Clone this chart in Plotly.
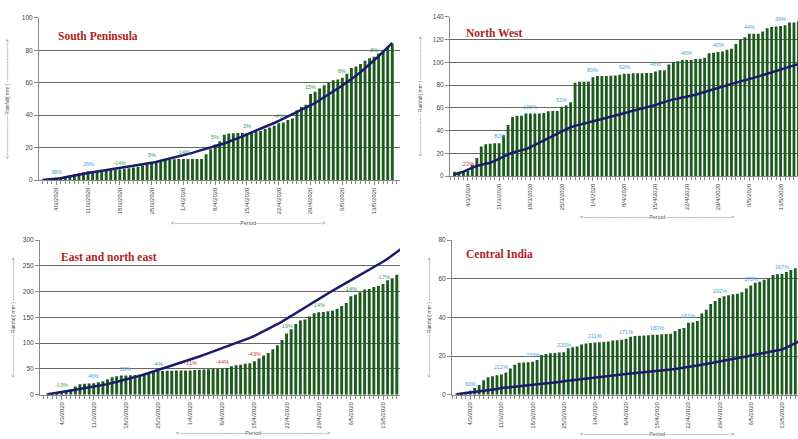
import pandas as pd
import plotly.graph_objects as go

# ---------------- data ----------------
dates = pd.date_range("2020-03-01", "2020-05-17", freq="D")
tick_labels = ["4/3/2020", "11/3/2020", "18/3/2020", "25/3/2020", "1/4/2020", "8/4/2020",
               "15/4/2020", "22/4/2020", "29/4/2020", "6/5/2020", "13/5/2020"]
tick_dates = list(dates[3::7])

sp_actual = [0.2, 0.4, 0.6, 1.0, 1.6, 2.3, 3.0, 3.6, 4.2, 4.8,
             5.5, 5.6, 5.7, 5.8, 6.0, 6.2, 6.4, 6.5, 7.0, 7.4,
             7.8, 8.3, 9.0, 9.8, 11.0, 11.5, 12.0, 12.4, 12.7, 12.9,
             13.0, 13.0, 13.0, 13.0, 13.1, 13.1, 16.0, 19.0, 22.0, 24.0,
             28.0, 28.8, 28.9, 29.0, 29.0, 29.0, 29.5, 30.0, 30.3, 31.5,
             32.5, 33.5, 35.0, 35.5, 37.0, 38.0, 43.0, 45.0, 46.5, 53.0,
             54.5, 56.5, 58.5, 60.0, 61.5, 62.0, 63.0, 65.5, 69.0, 70.0,
             71.5, 73.5, 75.0, 76.0, 78.0, 80.0, 82.0, 84.0]
sp_normal = [0.1, 0.3, 0.5, 0.7, 1.2, 1.8, 2.4, 3.0, 3.5, 4.0,
             4.4, 4.9, 5.3, 5.7, 6.2, 6.7, 7.1, 7.6, 8.0, 8.4,
             8.8, 9.3, 9.8, 10.2, 10.5, 11.2, 11.9, 12.6, 13.2, 13.8,
             14.4, 15.1, 15.9, 16.8, 17.7, 18.6, 19.5, 20.3, 21.0, 21.8,
             22.6, 23.6, 24.7, 25.8, 27.0, 28.2, 29.3, 30.4, 31.6, 32.8,
             34.0, 35.2, 36.5, 37.8, 39.2, 40.6, 42.0, 43.3, 44.6, 46.0,
             47.5, 49.2, 50.9, 52.6, 54.5, 56.4, 58.3, 60.2, 62.2, 64.3,
             66.5, 68.8, 71.3, 73.8, 76.4, 79.2, 81.9, 84.5]
sp_pct = ["38%", "26%", "-14%", "5%", "-14%", "5%", "3%", "-4%", "15%", "8%", "3%"]

nw_actual = [4.0, 4.0, 4.2, 4.5, 10.0, 16.0, 26.0, 28.0, 28.5, 29.0,
             29.0, 36.0, 45.0, 52.0, 53.0, 53.2, 55.0, 55.0, 55.0, 55.0,
             55.5, 57.0, 57.2, 57.3, 61.0, 62.0, 65.0, 82.0, 83.0, 83.0,
             83.2, 87.0, 88.0, 88.0, 88.0, 88.2, 88.5, 89.0, 90.0, 90.0,
             90.5, 90.5, 90.5, 90.6, 90.7, 92.0, 93.0, 93.0, 98.0, 100.0,
             101.0, 102.0, 102.0, 102.0, 103.0, 103.2, 104.0, 108.0, 108.5, 109.0,
             109.5, 111.0, 112.0, 116.0, 120.0, 122.0, 125.0, 125.0, 125.2, 127.0,
             130.0, 131.0, 131.5, 132.0, 132.5, 135.0, 135.0, 136.0]
nw_normal = [1.5, 2.5, 4.0, 5.8, 7.5, 9.0, 10.0, 10.8, 11.8, 13.5,
             15.5, 17.5, 19.5, 20.8, 21.8, 22.7, 23.8, 25.5, 27.5, 29.5,
             31.5, 33.5, 35.5, 37.3, 39.5, 41.5, 43.0, 44.2, 45.2, 46.0,
             46.8, 47.8, 49.0, 50.2, 51.3, 52.3, 53.3, 54.3, 55.3, 56.5,
             57.5, 58.3, 59.0, 60.0, 61.2, 62.5, 64.0, 65.3, 66.5, 67.5,
             68.3, 69.0, 69.8, 70.5, 71.5, 72.8, 74.0, 75.3, 76.5, 77.8,
             79.0, 80.3, 81.5, 82.5, 83.3, 84.2, 85.2, 86.3, 87.5, 88.8,
             90.0, 91.3, 92.5, 93.8, 95.0, 96.2, 97.3, 98.3]
nw_pct = ["-22%", "82%", "106%", "51%", "80%", "62%", "48%", "46%", "40%", "44%", "39%"]

ene_actual = [1.0, 2.0, 3.0, 4.4, 7.0, 10.0, 16.0, 20.0, 21.0, 21.5,
              22.0, 24.0, 26.0, 30.0, 34.0, 36.0, 37.0, 37.0, 37.5, 38.0,
              39.0, 40.0, 42.0, 44.0, 46.0, 46.0, 46.5, 46.5, 47.0, 47.0,
              47.0, 47.0, 48.0, 48.5, 49.0, 49.5, 50.0, 50.0, 50.5, 52.0,
              55.0, 57.0, 58.0, 60.0, 61.0, 65.0, 70.0, 76.0, 81.0, 88.0,
              96.0, 106.0, 119.0, 127.0, 137.0, 144.0, 146.0, 152.0, 158.0, 160.0,
              160.5, 162.0, 163.0, 167.0, 172.0, 178.0, 191.0, 194.0, 199.0, 204.0,
              205.0, 209.0, 211.0, 215.0, 222.0, 226.0, 233.0, 238.0]
ene_normal = [0.8, 2.0, 3.5, 5.0, 6.5, 8.0, 9.5, 11.0, 12.3, 13.6,
              15.0, 16.8, 18.6, 20.5, 22.5, 24.6, 26.8, 29.0, 31.4, 33.9,
              36.5, 39.2, 42.0, 45.0, 48.0, 50.9, 53.8, 56.6, 59.5, 62.3,
              65.1, 68.0, 71.0, 74.1, 77.2, 80.4, 83.6, 86.8, 90.0, 93.3,
              96.6, 100.0, 103.4, 106.9, 110.4, 114.0, 118.3, 122.8, 127.3, 132.0,
              136.8, 141.8, 147.0, 152.5, 158.0, 163.5, 169.0, 174.6, 180.3, 186.0,
              191.3, 196.5, 201.7, 206.8, 211.8, 216.9, 222.0, 227.2, 232.4, 237.6,
              242.8, 247.9, 253.0, 258.0, 264.0, 270.5, 277.0, 283.5]
ene_pct = ["-13%", "46%", "28%", "-4%", "-31%", "-44%", "-43%", "-19%", "-14%", "-14%", "-17%"]

ci_actual = [0.5, 1.0, 1.5, 2.0, 3.5, 5.0, 7.5, 9.0, 9.5, 10.0,
             10.5, 11.5, 13.5, 15.5, 16.5, 16.6, 16.8, 17.0, 18.0, 20.5,
             21.0, 21.5, 21.6, 21.8, 22.0, 24.0, 24.5, 25.0, 26.0, 26.5,
             26.8, 27.0, 27.1, 27.3, 27.5, 28.0, 28.2, 28.5, 29.0, 30.0,
             30.4, 30.5, 30.6, 30.8, 31.0, 31.0, 31.3, 31.4, 31.5, 33.0,
             34.0, 34.5, 37.3, 37.4, 38.2, 42.0, 44.0, 47.0, 48.5, 50.0,
             51.0, 51.5, 52.0, 52.2, 53.0, 55.0, 56.5, 58.0, 58.5, 59.5,
             60.0, 62.0, 62.3, 62.5, 63.5, 64.5, 65.5, 66.0]
ci_normal = [0.2, 0.5, 0.9, 1.25, 1.5, 1.7, 1.9, 2.1, 2.4, 2.9,
             3.4, 3.7, 4.0, 4.2, 4.5, 4.7, 4.9, 5.1, 5.3, 5.5,
             5.7, 6.0, 6.3, 6.6, 6.9, 7.2, 7.5, 7.7, 8.0, 8.2,
             8.5, 8.7, 9.0, 9.3, 9.6, 9.9, 10.2, 10.5, 10.7, 10.9,
             11.1, 11.3, 11.5, 11.7, 11.9, 12.1, 12.4, 12.7, 13.0, 13.3,
             13.6, 13.95, 14.3, 14.7, 15.1, 15.5, 15.9, 16.3, 16.7, 17.1,
             17.5, 17.9, 18.4, 18.8, 19.3, 19.8, 20.3, 20.7, 21.1, 21.5,
             22.0, 22.5, 22.9, 23.4, 24.4, 25.5, 26.7, 27.8]
ci_pct = ["60%", "212%", "233%", "220%", "211%", "171%", "180%", "161%", "192%", "178%", "167%"]

# label colours (IMD categories)
BLUE, GREEN, RED = "#45a9d1", "#3a9e62", "#cc3a3a"
sp_pct_col = [BLUE, BLUE] + [GREEN] * 9
nw_pct_col = [RED] + [BLUE] * 10
ene_pct_col = [GREEN, BLUE, BLUE, GREEN, RED, RED, RED, GREEN, GREEN, GREEN, GREEN]
ci_pct_col = [BLUE] * 11

for arr in (sp_actual, sp_normal, nw_actual, nw_normal, ene_actual, ene_normal, ci_actual, ci_normal):
    assert len(arr) == len(dates)

# ---------------- figure ----------------
W, H = 798, 439
BAR = "#1d5b1d"
LINE = "#1b1a6e"
FONT = "Liberation Sans, Arial, sans-serif"

panels = [
    dict(name="South Peninsula", a=sp_actual, n=sp_normal, p=sp_pct, c=sp_pct_col,
         xpx=(39, 400), ypx=(14, 179), ymax=100, dt=20, xr=(-0.8, 78.7),
         title_xy=(56, 33), ytitle_x=7, period=(248, 223)),
    dict(name="North West", a=nw_actual, n=nw_normal, p=nw_pct, c=nw_pct_col,
         xpx=(450, 798), ypx=(13, 175), ymax=140, dt=20, xr=(-1.0, 76.9),
         title_xy=(464, 29), ytitle_x=420, period=(657, 216)),
    dict(name="East and north east", a=ene_actual, n=ene_normal, p=ene_pct, c=ene_pct_col,
         xpx=(40, 400), ypx=(240, 397), ymax=300, dt=50, xr=(-1.7, 76.7),
         title_xy=(59, 257), ytitle_x=13, period=(253, 436)),
    dict(name="Central India", a=ci_actual, n=ci_normal, p=ci_pct, c=ci_pct_col,
         xpx=(452, 798), ypx=(240, 397), ymax=80, dt=20, xr=(-1.1, 76.6),
         title_xy=(464, 254), ytitle_x=429, period=(657, 437)),
]

fig = go.Figure()
annotations = []
layout = {}
d0 = dates[0]

for k, p in enumerate(panels, start=1):
    xa = "x" if k == 1 else f"x{k}"
    ya = "y" if k == 1 else f"y{k}"
    fig.add_trace(go.Bar(x=dates, y=p["a"], marker=dict(color=BAR, line=dict(width=0)),
                         xaxis=xa, yaxis=ya, showlegend=False))
    fig.add_trace(go.Scatter(x=dates, y=p["n"], mode="lines",
                             line=dict(color=LINE, width=2.5), xaxis=xa, yaxis=ya,
                             showlegend=False))
    xr = [d0 + pd.Timedelta(days=p["xr"][0]), d0 + pd.Timedelta(days=p["xr"][1])]
    layout[f"xaxis{'' if k == 1 else k}"] = dict(
        domain=[p["xpx"][0] / W, p["xpx"][1] / W], anchor=ya, type="date",
        range=[str(xr[0]), str(xr[1])],
        tickmode="array", tickvals=tick_dates, ticktext=tick_labels,
        tickangle=-90, tickfont=dict(size=6, color="#444", family=FONT),
        ticks="outside", ticklen=4, tickcolor="#888",
        minor=dict(tickmode="linear", tick0=str(d0), dtick=86400000,
                   ticks="outside", ticklen=3, tickcolor="#888", showgrid=False),
        showline=True, linecolor="#888", linewidth=1, showgrid=False, zeroline=False,
        fixedrange=True)
    layout[f"yaxis{'' if k == 1 else k}"] = dict(
        domain=[1 - p["ypx"][1] / H, 1 - p["ypx"][0] / H], anchor=xa,
        range=[0, p["ymax"]], dtick=p["dt"], tick0=0,
        tickfont=dict(size=6.5, color="#444", family=FONT),
        ticks="outside", ticklen=4, tickcolor="#888",
        showline=True, linecolor="#888", linewidth=1,
        showgrid=True, gridcolor="#666666", gridwidth=1, zeroline=False)

    annotations.append(dict(text=f"<b>{p['name']}</b>", xref="paper", yref="paper",
                            x=p["title_xy"][0] / W, y=1 - p["title_xy"][1] / H,
                            xanchor="left", yanchor="middle", showarrow=False,
                            font=dict(family="Liberation Serif, Times New Roman, serif",
                                      size=11.5, color="#b31b1b")))
    cy = 1 - (p["ypx"][0] + p["ypx"][1]) / 2 / H
    annotations.append(dict(text="<" + "-" * 24 + " Rainfall( mm ) " + "-" * 24 + ">",
                            xref="paper", yref="paper", x=p["ytitle_x"] / W, y=cy,
                            textangle=-90, showarrow=False, xanchor="center", yanchor="middle",
                            font=dict(size=5, color="#555", family=FONT)))
    annotations.append(dict(text="<" + "-" * 36 + "Period" + "-" * 36 + ">",
                            xref="paper", yref="paper", x=p["period"][0] / W,
                            y=1 - p["period"][1] / H, showarrow=False,
                            xanchor="center", yanchor="middle",
                            font=dict(size=5.5, color="#555", family=FONT)))
    for j, (td, txt, col) in enumerate(zip(tick_dates, p["p"], p["c"])):
        idx = 3 + 7 * j
        annotations.append(dict(text=txt, x=td, y=p["a"][idx], xref=xa, yref=ya,
                                yanchor="bottom", yshift=2, showarrow=False,
                                font=dict(size=5.5, color=col, family=FONT)))

fig.update_layout(width=W, height=H, margin=dict(l=0, r=0, t=0, b=0),
                  paper_bgcolor="white", plot_bgcolor="white", bargap=0.36,
                  annotations=annotations, **layout)

fig.write_html("out.html")
